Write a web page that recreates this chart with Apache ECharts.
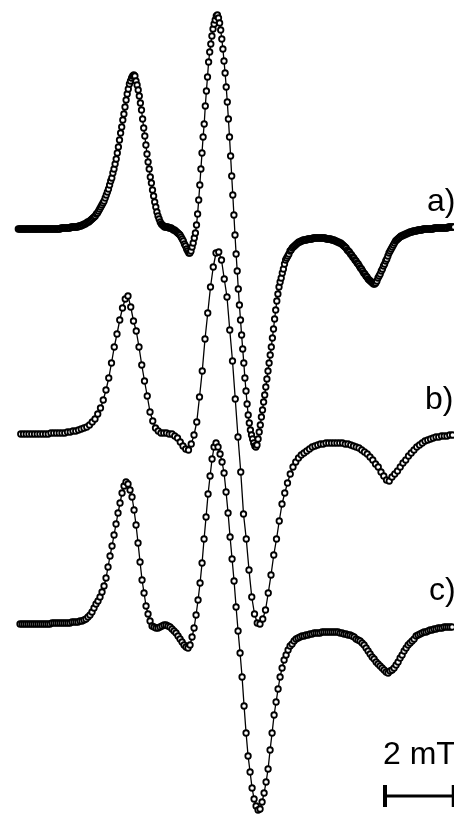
<!DOCTYPE html>
<html>
<head>
<meta charset="utf-8">
<script src="https://cdn.jsdelivr.net/npm/echarts@6/dist/echarts.min.js"></script>
<style>
html,body{margin:0;padding:0;background:#fff;}
#chart{width:454px;height:814px;}
</style>
</head>
<body>
<div id="chart"></div>
<script>
// Field sweep (mT) of each spectrum: start and step
const A_FIELD_START = 0.5324, A_FIELD_STEP = 0.032;
const B_FIELD_START = 0.6036, B_FIELD_STEP = 0.08;
const C_FIELD_START = 0.5819, C_FIELD_STEP = 0.0582;

// Field range shown (mT)
const FIELD_MIN = 0, FIELD_MAX = 13.207;

// Vertical stacking offsets of the three spectra (a.u.)
const OFFSET_A = 585, OFFSET_B = 380, OFFSET_C = 190;
const Y_MIN = 0, Y_MAX = 814;

// Spectrum a) intensities (a.u.)
const A_INT = [
0,0,0,0,0,0,0, 0,0,0,0,0,0,0,0,0,0, 0,0,0,0,0,0,0,0,0,0, 0,0,0,0,0,0,0,0,0,0,
0,0,1,1,1,1,1,1,1,1, 1,2,2,2,2,2,2,2,3,3, 3,4,4,5,5,6,7,7,8,9, 10,11,12,13,15,16,18,20,22,24,
26,28,31,34,37,40,44,48,51,56, 60,65,70,76,82,89,96,102,109,115, 122,129,135,140,145,148,151,153,154,153,
148,144,139,133,126,119,110,101,93,84, 75,67,60,52,46,39,33,27,22,17, 13,10,7,5,4,3,2,2,2,2,
1,1,1,0,-1,-1,-2,-3,-4,-5, -6,-8,-10,-12,-15,-17,-20,-22,-24,-24, -22,-18,-14,-9,-4,4,15,29,44,60,
76,92,105,123,138,152,167,177,185,193, 200,205,209,213,214,211,206,199,190,180, 168,156,142,127,110,92,73,53,34,14,
-6,-25,-42,-60,-76,-91,-106,-120,-134,-149, -162,-175,-186,-194,-201,-206,-210,-214,-217,-218,
-216,-210,-203,-196,-188,-181,-173,-166,-158,-150, -142,-134,-126,-118,-109,-100,-90,-81,-72,-65,
-58,-53,-49,-44,-40,-35,-31,-29,-27,-25, -22,-21,-19,-18,-17,-16,-15,-14,-13,-13,
-12,-12,-11,-11,-11,-11,-10,-10,-10,-10, -10,-9,-9,-9,-9,-9,-9,-9,-9,-9,
-9,-9,-9,-10,-10,-10,-10,-10,-11,-11, -11,-12,-12,-13,-13,-14,-14,-15,-16,-17,
-18,-19,-21,-22,-23,-25,-26,-28,-29,-31, -32,-34,-35,-37,-39,-40,-42,-44,-45,-47,
-48,-50,-51,-52,-53,-54,-55,-55,-54,-52, -49,-47,-45,-42,-40,-37,-35,-32,-30,-27,
-24,-22,-20,-18,-16,-14,-12,-11,-10,-9, -8,-7,-7,-6,-6,-5,-5,-4,-4,-3,
-3,-3,-2,-2,-2,-2,-1,-1,-1,-1, -1,0,0,0,0,0,0,0,0,0, 0,1,1,1,1,1,1,1,1,1, 1,1,1,1,2,2,2,2,2,2
];

// Spectrum b) intensities (a.u.)
const B_INT = [
0,0,0,0,0,0,0,0,0, 0,0,1,1,1,1,1,1,2,2, 3,3,4,5,6,7,9,12,15,20,
26,34,44,56,71,87,100,114,126,135, 138,127,113,103,87,69,53,38,22,13,
6,3,1,1,1,0,0,-2,-4,-8, -12,-15,-16,-10,-1,12,37,63,95,121,
147,167,181,182,174,155,137,104,73,35, -3,-38,-80,-105,-136,-163,-180,-189,-190,-185,
-176,-159,-141,-121,-105,-87,-70,-59,-49,-40, -33,-28,-24,-21,-19,-17,-15,-13,-12,-11,
-10,-10,-9,-9,-9,-9,-9,-9,-9,-10, -10,-11,-12,-13,-14,-16,-18,-20,-23,-26,
-30,-33,-38,-42,-46,-47,-43,-40,-37,-33, -29,-26,-22,-19,-16,-13,-11,-9,-7,-6,
-5,-4,-3,-3,-2,-2,-2,-1,-1
];

// Spectrum c) intensities (a.u.)
const C_INT = [
0,0,0,0,0,0,0,0, 0,0,0,0,0,0,0,0,1,1, 1,1,1,1,1,1,1,1,2,2,
2,2,3,3,4,5,7,9,12,16, 20,23,27,32,38,46,57,68,78,89, 100,111,121,131,138,142,140,134,127,114,
99,81,62,44,31,18,10,3,-2,-3, -4,-4,-3,-2,-1,-1,-2,-3,-5,-7, -9,-12,-15,-18,-21,-23,-24,-21,-13,-4,
9,24,41,61,85,107,130,148,165,177, 181,177,170,162,151,132,111,87,65,43,
17,-7,-29,-53,-82,-109,-132,-148,-164,-175, -182,-186,-185,-178,-169,-158,-145,-126,-109,-91,
-78,-65,-53,-44,-36,-31,-26,-22,-20,-17, -15,-14,-13,-12,-12,-11,-11,-10,-10,-9,
-9,-9,-9,-8,-8,-8,-8,-8,-8,-8, -8,-8,-9,-9,-10,-10,-11,-11,-12,-13,
-15,-16,-17,-19,-21,-24,-27,-30,-33,-35, -38,-40,-42,-44,-46,-48,-49,-47,-46,-44,
-41,-38,-34,-31,-27,-24,-21,-19,-17,-15, -12,-11,-10,-9,-8,-8,-7,-6,-6,-5,
-5,-4,-4,-4,-3,-3,-3,-3,-3,-3
];

const TRACE_LABELS = ['a)', 'b)', 'c)'];
const SCALE_LABEL = '2 mT';
const SCALE_FIELD_START = 11.2, SCALE_FIELD_LEN = 2;   // mT
const SCALE_LEVEL = 18;

function toSeriesData(values, start, step, offset) {
  return values.map((v, i) => [start + i * step, v + offset]);
}

function spectrum(name, data) {
  return {
    name: name,
    type: 'line',
    data: data,
    symbol: 'circle',
    symbolSize: 5.5,
    showAllSymbol: true,
    sampling: null,
    itemStyle: { color: '#ffffff', borderColor: '#000000', borderWidth: 1.8 },
    lineStyle: { color: '#000000', width: 1.3 },
    emphasis: { disabled: true },
    silent: true
  };
}

const chart = echarts.init(document.getElementById('chart'), null, { renderer: 'canvas' });
const FONT = '32px "Liberation Sans", Arial, sans-serif';

chart.setOption({
  animation: false,
  backgroundColor: '#ffffff',
  grid: { left: 0, right: 0, top: 0, bottom: 0, containLabel: false },
  xAxis: { type: 'value', min: FIELD_MIN, max: FIELD_MAX, show: false },
  yAxis: { type: 'value', min: Y_MIN, max: Y_MAX, show: false },
  series: [
    spectrum(TRACE_LABELS[2], toSeriesData(C_INT, C_FIELD_START, C_FIELD_STEP, OFFSET_C)),
    spectrum(TRACE_LABELS[1], toSeriesData(B_INT, B_FIELD_START, B_FIELD_STEP, OFFSET_B)),
    spectrum(TRACE_LABELS[0], toSeriesData(A_INT, A_FIELD_START, A_FIELD_STEP, OFFSET_A)),
    {
      name: SCALE_LABEL,
      type: 'line',
      data: [[SCALE_FIELD_START, SCALE_LEVEL], [SCALE_FIELD_START + SCALE_FIELD_LEN, SCALE_LEVEL]],
      symbol: 'rect',
      symbolSize: [4, 22],
      clip: false,
      itemStyle: { color: '#000000' },
      lineStyle: { color: '#000000', width: 3 },
      silent: true
    }
  ],
  graphic: [
    { type: 'text', left: 427, top: 186, style: { text: TRACE_LABELS[0], font: FONT, fill: '#000' } },
    { type: 'text', left: 425, top: 384, style: { text: TRACE_LABELS[1], font: FONT, fill: '#000' } },
    { type: 'text', left: 429, top: 575, style: { text: TRACE_LABELS[2], font: FONT, fill: '#000' } },
    { type: 'text', left: 383, top: 739, style: { text: SCALE_LABEL, font: FONT, fill: '#000' } }
  ]
});
</script>
</body>
</html>
